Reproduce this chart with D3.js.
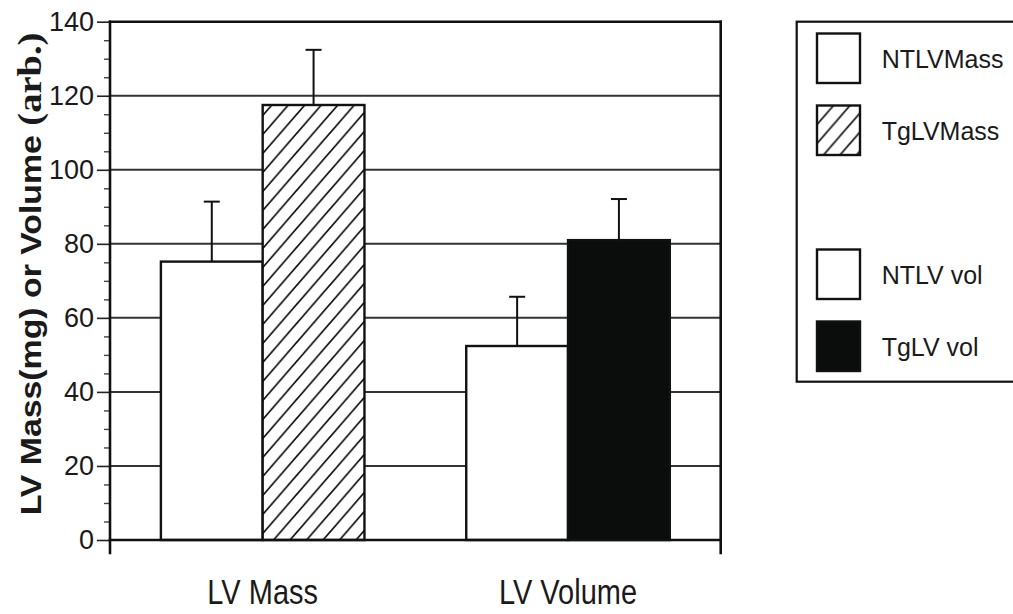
<!DOCTYPE html>
<html>
<head>
<meta charset="utf-8">
<script src="https://cdn.jsdelivr.net/npm/d3@7"></script>
<style>
body { margin: 0; background: #fff; }
text { font-family: "Liberation Sans", Arial, Helvetica, sans-serif; fill: #1a1a1a; }
</style>
</head>
<body>
<svg id="chart" width="1013" height="614"></svg>
<script>
// values
var categories = ["LV Mass", "LV Volume"];
var ntValues = [75.2, 52.4];
var tgValues = [117.5, 81.0];
var ntErrors = [16.2, 13.3];
var tgErrors = [14.9, 11.1];
var yTicks = [0, 20, 40, 60, 80, 100, 120, 140];
var legendLabels = ["NTLVMass", "TgLVMass", "", "NTLV vol", "TgLV vol"];

var svg = d3.select("#chart");

//hatch pattern for the Tg mass bar (white under the stripes)
var pw = 16.5, ph = 19;
var pat = svg.append("defs").append("pattern")
    .attr("id", "hatch")
    .attr("patternUnits", "userSpaceOnUse")
    .attr("width", pw)
    .attr("height", ph);
pat.append("rect")
    .attr("width", pw)
    .attr("height", ph)
    .attr("fill", "#fff");
pat.append("path")
    .attr("d", "M0," + ph + "L" + pw + ",0M-2,2L2,-2M" + (pw - 2) + "," + (ph + 2) + "L" + (pw + 2) + "," + (ph - 2))
    .attr("stroke", "#111")
    .attr("stroke-width", 1.7);

var x0 = d3.scaleBand().domain(categories).range([110, 720.7]).padding(0);
var x1 = d3.scaleBand().domain(["NT", "Tg"]).range([0, x0.bandwidth()])
    .paddingInner(0).paddingOuter(0.5);
var y = d3.scaleLinear().domain([0, 140]).range([540, 21.7]);

function fillFor(d) {
    if (d.series == "NT") return "#fff";
    return d.cat == categories[0] ? "url(#hatch)" : "#0b0c0c";
}

var bars = [];
categories.forEach(function(c, i) {
    bars.push({cat: c, series: "NT", value: ntValues[i], err: ntErrors[i]});
    bars.push({cat: c, series: "Tg", value: tgValues[i], err: tgErrors[i]});
});

// gridlines
svg.append("g").selectAll("line")
    .data(yTicks.filter(function(v) { return v > 0 && v < 140; }))
    .enter().append("line")
    .attr("x1", x0.range()[0])
    .attr("x2", x0.range()[1])
    .attr("y1", function(d) { return y(d); })
    .attr("y2", function(d) { return y(d); })
    .attr("stroke", "#333")
    .attr("stroke-width", 2);

// bars
svg.append("g").selectAll("rect")
    .data(bars)
    .enter().append("rect")
    .attr("x", function(d) { return x0(d.cat) + x1(d.series); })
    .attr("y", function(d) { return y(d.value); })
    .attr("width", x1.bandwidth())
    .attr("height", function(d) { return y(0) - y(d.value); })
    .attr("fill", fillFor)
    .attr("stroke", "#111")
    .attr("stroke-width", 2.4);

// error bars (upper only)
var eb = svg.append("g").selectAll("g")
    .data(bars)
    .enter().append("g")
    .attr("stroke", "#111")
    .attr("stroke-width", 2);
eb.append("line")
    .attr("x1", function(d) { return x0(d.cat) + x1(d.series) + x1.bandwidth() / 2; })
    .attr("x2", function(d) { return x0(d.cat) + x1(d.series) + x1.bandwidth() / 2; })
    .attr("y1", function(d) { return y(d.value); })
    .attr("y2", function(d) { return y(d.value + d.err); });
eb.append("line")
    .attr("x1", function(d) { return x0(d.cat) + x1(d.series) + x1.bandwidth() / 2 - 8; })
    .attr("x2", function(d) { return x0(d.cat) + x1(d.series) + x1.bandwidth() / 2 + 8; })
    .attr("y1", function(d) { return y(d.value + d.err); })
    .attr("y2", function(d) { return y(d.value + d.err); });

// y axis, major + minor ticks
var yAxis = svg.append("g")
    .attr("transform", "translate(" + x0.range()[0] + ",0)")
    .call(d3.axisLeft(y).tickValues(yTicks).tickSize(13).tickPadding(3));
yAxis.select(".domain").remove();
yAxis.selectAll("line").attr("stroke", "#222").attr("stroke-width", 1.6);
yAxis.selectAll("text").attr("font-size", 27).attr("fill", "#1a1a1a")
    .style("font-family", "'Liberation Sans', Arial, sans-serif");

var yMinor = svg.append("g")
    .attr("transform", "translate(" + x0.range()[0] + ",0)")
    .call(d3.axisLeft(y).tickValues(d3.range(0, 141, 5).filter(function(v) { return v % 20; }))
        .tickSize(6).tickFormat(""));
yMinor.select(".domain").remove();
yMinor.selectAll("line").attr("stroke", "#444").attr("stroke-width", 1.4);

// frame
var L = x0.range()[0], R = x0.range()[1], T = y.range()[1], B = y.range()[0];
var frame = [[L, T, L, B + 13], [R, T, R, B + 13], [L, T, R, T], [L, B, R, B]];
svg.append("g").selectAll("line")
    .data(frame)
    .enter().append("line")
    .attr("x1", function(d) { return d[0]; })
    .attr("y1", function(d) { return d[1]; })
    .attr("x2", function(d) { return d[2]; })
    .attr("y2", function(d) { return d[3]; })
    .attr("stroke", "#111")
    .attr("stroke-width", 2.6)
    .attr("stroke-linecap", "square");

// category labels
var xAxis = svg.append("g")
    .attr("transform", "translate(0," + B + ")")
    .call(d3.axisBottom(x0).tickSize(0));
xAxis.select(".domain").remove();
xAxis.selectAll("text")
    .attr("font-size", 29)
    .attr("fill", "#1a1a1a")
    .style("font-family", "'Liberation Sans', Arial, sans-serif")
    .attr("dy", 0)
    .attr("y", 64 / 1.18)
    .attr("transform", "scale(1,1.18)");

// y label
var ylab = svg.append("text")
    .attr("transform", "translate(41,274) rotate(-90) scale(1.167,1)")
    .attr("text-anchor", "middle")
    .attr("font-size", 29)
    .attr("font-weight", "bold");
ylab.append("tspan").text("LV Mass(mg) or Volume ");
ylab.append("tspan")
    .attr("font-size", 33)
    .style("font-family", "'Liberation Serif', 'Times New Roman', serif")
    .text("(arb.)");

// legend
var legend = svg.append("g");
legend.append("rect")
    .attr("x", 796.7).attr("y", 21.7)
    .attr("width", 240).attr("height", 360)
    .attr("fill", "#fff")
    .attr("stroke", "#111")
    .attr("stroke-width", 2.2);

var legendFill = ["#fff", "url(#hatch)", "none", "#fff", "#0b0c0c"];
var items = legend.selectAll("g.item")
    .data(legendLabels.map(function(l, i) { return {label: l, i: i}; })
        .filter(function(d) { return d.label != ""; }))
    .enter().append("g")
    .attr("class", "item")
    .attr("transform", function(d) { return "translate(817," + (33.5 + d.i * 72) + ")"; });
items.append("rect")
    .attr("width", 43).attr("height", 49.5)
    .attr("fill", function(d) { return legendFill[d.i]; })
    .attr("stroke", "#111")
    .attr("stroke-width", 2.4);
items.append("text")
    .attr("x", 64.7)
    .attr("y", 34)
    .attr("font-size", 25)
    .text(function(d) { return d.label; });
</script>
</body>
</html>
